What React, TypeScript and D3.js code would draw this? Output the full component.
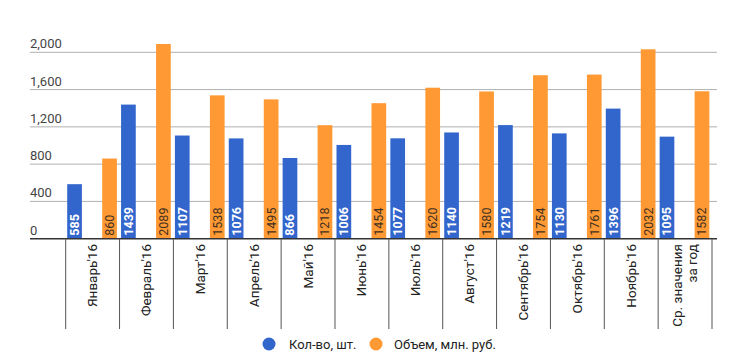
import React from 'react';
import { scaleBand, scaleLinear } from 'd3';

const categories = [
  "Январь'16", "Февраль'16", "Март'16", "Апрель'16", "Май'16", "Июнь'16",
  "Июль'16", "Август'16", "Сентябрь'16", "Октябрь'16", "Ноябрь'16", 'Ср. значения|за год',
];
const countValues = [585, 1439, 1107, 1076, 866, 1006, 1077, 1140, 1219, 1130, 1396, 1095];
const volumeValues = [860, 2089, 1538, 1495, 1218, 1454, 1620, 1580, 1754, 1761, 2032, 1582];
const seriesNames = ['Кол-во, шт.', 'Объем, млн. руб.'];
const yTicks = [0, 400, 800, 1200, 1600, 2000];

const width = 750;
const height = 363;
const font = 'Roboto, Arial, sans-serif';
const colors = ['#3366cc', '#ff9933'];

const App = () => {
  const x = scaleBand().domain(categories).range([65.7, 712]);
  const inner = scaleBand()
    .domain(seriesNames)
    .range([1.5, 1.5 + 35 * 1.42])
    .paddingInner(0.58);
  const y = scaleLinear().domain([0, 2000]).range([238.7, 52.3]);
  const series = [countValues, volumeValues];

  return (
    <svg width={width} height={height} style={{ position: 'absolute', left: 0, top: 0 }} fontFamily={font}>
      <rect width={width} height={height} fill="#fff" />
      {yTicks.map(t => (
        <g key={t}>
          {t > 0 && <line x1={30} x2={717} y1={y(t)} y2={y(t)} stroke="#b0b0b0" strokeWidth={1} />}
          <text x={30} y={y(t) - 4} fontSize={13} fill="#444">{t.toLocaleString('en-US')}</text>
        </g>
      ))}

      {series.map((vals, si) =>
        vals.map((v, i) => {
          const bx = x(categories[i])! + inner(seriesNames[si])!;
          const bw = inner.bandwidth();
          return (
            <g key={si + '-' + i}>
              <rect x={bx} y={y(v)} width={bw} height={y(0) - y(v)} fill={colors[si]} />
              <text
                transform={`translate(${bx + bw / 2 + 4.5},${y(0) - 3}) rotate(-90)`}
                fontSize={12.5}
                fontWeight={si === 0 ? 'bold' : 'normal'}
                fill={si === 0 ? '#fff' : '#3f3020'}
              >
                {v}
              </text>
            </g>
          );
        })
      )}

      <line x1={30} x2={717} y1={y(0)} y2={y(0)} stroke="#333" strokeWidth={1.5} />

      {categories.map(c => (
        <line key={'sep' + c} x1={x(c)} x2={x(c)} y1={y(0)} y2={329} stroke="#555" strokeWidth={1} />
      ))}
      <line x1={712} x2={712} y1={y(0)} y2={329} stroke="#555" strokeWidth={1} />

      {categories.map(c => {
        const lines = c.split('|');
        const cx = x(c)! + x.bandwidth() / 2;
        return lines.map((ln, li) => {
          const dx = (li - (lines.length - 1) / 2) * 15 + 4.5;
          return (
            <text
              key={c + li}
              transform={`translate(${cx + dx},${244}) rotate(-90)`}
              textAnchor="end"
              fontSize={13.5}
              fill="#222"
            >
              {ln}
            </text>
          );
        });
      })}

      <g>
        <circle cx={269} cy={344} r={6.5} fill={colors[0]} />
        <text x={289} y={348.5} fontSize={13} fill="#222">{seriesNames[0]}</text>
        <circle cx={376} cy={344} r={6.5} fill={colors[1]} />
        <text x={394} y={348.5} fontSize={13} fill="#222">{seriesNames[1]}</text>
      </g>
    </svg>
  );
};

export default App;
